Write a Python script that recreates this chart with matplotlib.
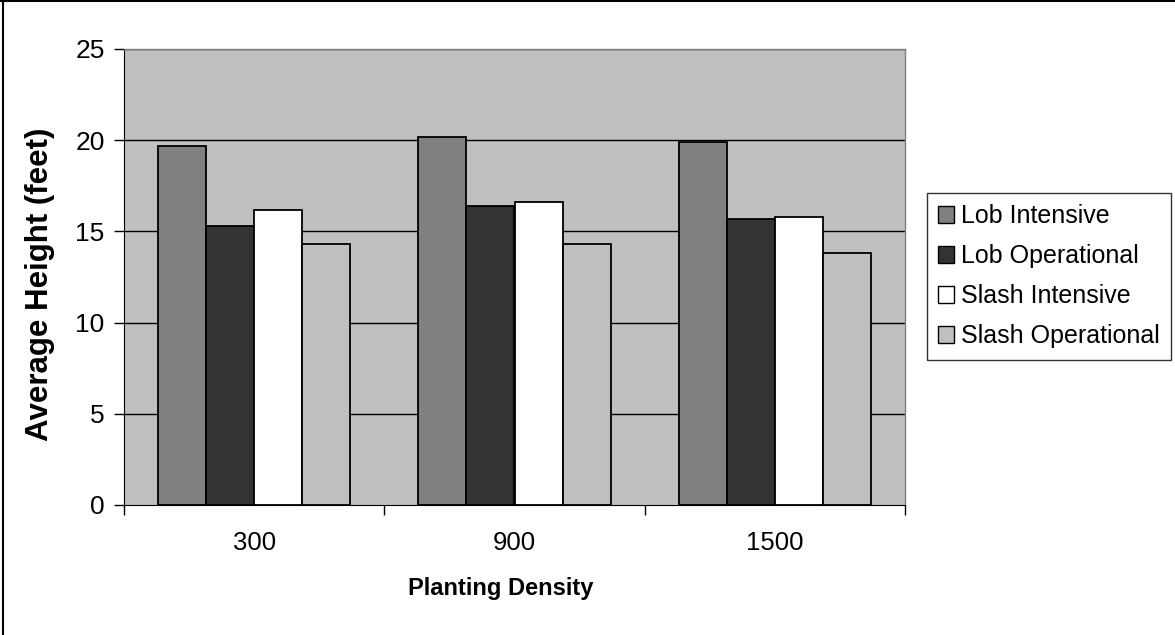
import matplotlib.pyplot as plt
import numpy as np
from matplotlib.lines import Line2D

plt.rcParams['font.family'] = ['Liberation Sans', 'DejaVu Sans']

# average tree height by planting density
densities = ['300', '900', '1500']
series_names = ['Lob Intensive', 'Lob Operational', 'Slash Intensive', 'Slash Operational']
lob_intensive = [19.7, 20.2, 19.9]
lob_operational = [15.3, 16.4, 15.7]
slash_intensive = [16.2, 16.6, 15.8]
slash_operational = [14.3, 14.3, 13.8]
y_ticks = [0, 5, 10, 15, 20, 25]

colors = ['#808080', '#333333', '#ffffff', '#c0c0c0']


def main():
    fig = plt.figure(figsize=(11.75, 6.35), dpi=100)
    ax = fig.add_axes([124 / 1175, 1 - 505 / 635, (905 - 124) / 1175, (505 - 49) / 635])
    ax.set_facecolor('#c0c0c0')

    all_series = [lob_intensive, lob_operational, slash_intensive, slash_operational]
    ind = np.arange(len(densities))
    width = 0.185

    # gridlines behind the bars
    for y in y_ticks[1:]:
        ax.axhline(y, color='black', linewidth=1, zorder=1)

    for k, vals in enumerate(all_series):
        ax.bar(ind + (k - 1.5) * width, vals, width, color=colors[k],
               edgecolor='black', linewidth=1.3, label=series_names[k], zorder=2)

    ax.set_xlim(-0.5, len(densities) - 0.5)
    ax.set_ylim(0, 25)
    ax.set_yticks(y_ticks)
    ax.set_yticklabels([str(t) for t in y_ticks], fontsize=19)
    ax.tick_params(axis='y', direction='out', length=7, width=1, pad=7)

    # category labels in the middle, tick marks at the group boundaries
    ax.set_xticks(ind)
    ax.set_xticklabels(densities, fontsize=18.5)
    ax.set_xticks(np.arange(len(densities) + 1) - 0.5, minor=True)
    ax.tick_params(axis='x', which='major', length=0, pad=19)
    ax.tick_params(axis='x', which='minor', direction='out', length=7, width=1)

    for side in ['top', 'right']:
        ax.spines[side].set_color('#808080')
        ax.spines[side].set_linewidth(1)
    ax.spines['left'].set_color('black')
    ax.spines['bottom'].set_color('black')

    fig.text(40 / 1175, 1 - 284 / 635, 'Average Height (feet)', rotation=90,
             fontsize=22.5, fontweight='bold', ha='center', va='center')
    fig.text(501 / 1175, 1 - 588 / 635, 'Planting Density',
             fontsize=17, fontweight='bold', ha='center', va='center')

    leg = fig.legend(loc='upper left', bbox_to_anchor=(927 / 1175, 1 - 193 / 635),
                     bbox_transform=fig.transFigure, borderaxespad=0,
                     fontsize=18, frameon=True, fancybox=False, shadow=False,
                     handlelength=0.62, handleheight=0.62, handletextpad=0.28,
                     labelspacing=0.64, borderpad=0.45)
    leg.get_frame().set_edgecolor('black')
    leg.get_frame().set_linewidth(1)
    for patch in leg.get_patches():
        patch.set_linewidth(1)

    # chart border on the left and top
    fig.add_artist(Line2D([3 / 1175, 3 / 1175], [0, 1], color='black', linewidth=1.5,
                          transform=fig.transFigure))
    fig.add_artist(Line2D([0, 1], [1 - 1 / 635, 1 - 1 / 635], color='black', linewidth=1.5,
                          transform=fig.transFigure))

    fig.savefig('out.png', dpi=100)


if __name__ == "__main__":
    main()
